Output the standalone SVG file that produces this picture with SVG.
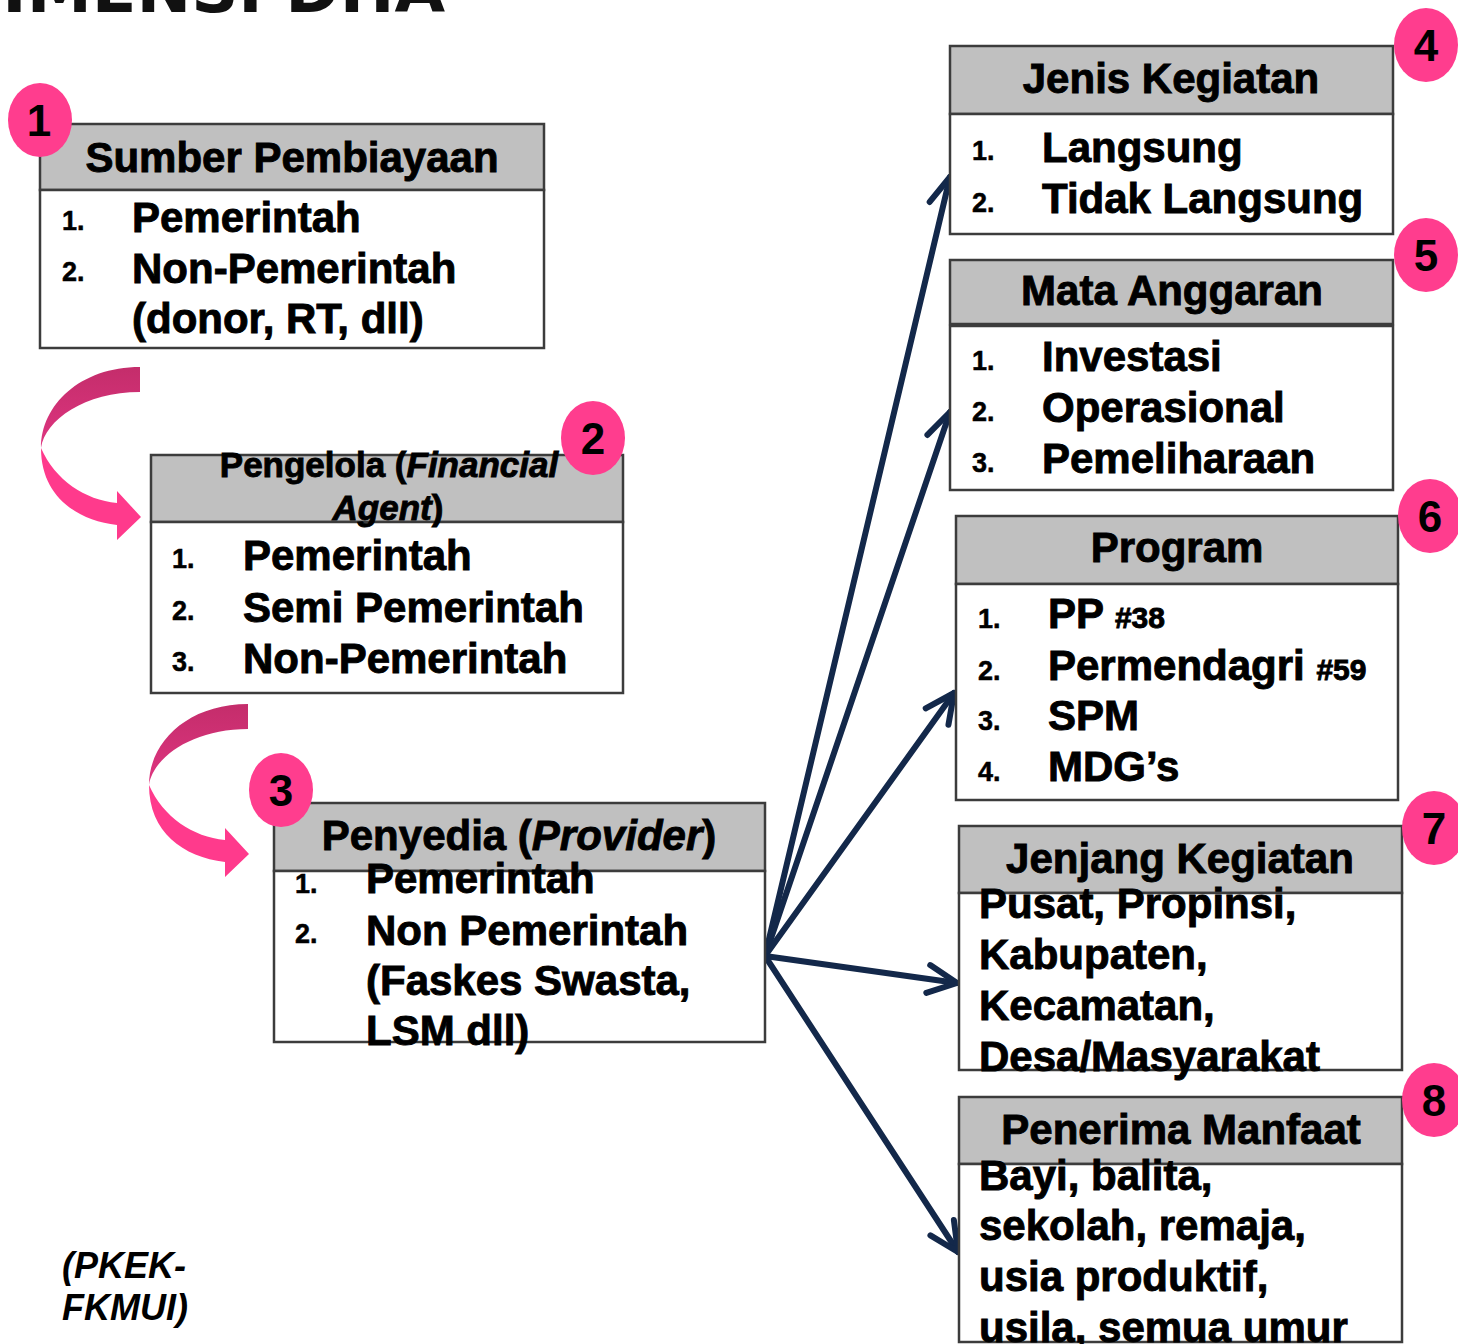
<svg xmlns="http://www.w3.org/2000/svg" width="1458" height="1344" viewBox="0 0 1458 1344">
<defs>
<style>
.hdr{fill:#c0c0c0;stroke:#3c3c3c;stroke-width:2.5}
.bdy{fill:#ffffff;stroke:#3c3c3c;stroke-width:2.5}
.t{font-family:"Liberation Sans",Arial,sans-serif;font-weight:bold;font-size:42px;fill:#000;stroke:#000;stroke-width:0.9}
.n{font-size:27px;stroke-width:0.5}
.s{font-size:30px}
.c{text-anchor:middle}
.i{font-style:italic}
.badge{fill:#ff3d8e}
.bn{font-family:"Liberation Sans",Arial,sans-serif;font-weight:bold;font-size:44px;fill:#000;text-anchor:middle}
.conn{stroke:#13284a;stroke-width:6;stroke-linecap:round;fill:none}
</style>
<marker id="ah" markerUnits="userSpaceOnUse" orient="auto" markerWidth="50" markerHeight="50" viewBox="-40 -25 50 50" refX="0" refY="0" overflow="visible">
<path d="M -29,-14 L 0,0 L -29,14" fill="none" stroke="#13284a" stroke-width="6" stroke-linecap="round" stroke-linejoin="round"/>
</marker>
<linearGradient id="back" x1="0" y1="0" x2="0" y2="1">
<stop offset="0" stop-color="#c42d6b"/>
<stop offset="1" stop-color="#de3580"/>
</linearGradient>
<symbol id="curl" overflow="visible">
<path d="M 140,367 C 80,367 41,405 41,448 C 45,420 85,392 140,392 Z" fill="url(#back)"/>
<path d="M 41,448 C 55,480 85,500 117,503 L 117,491 L 141,517 L 117,540 L 117,525 C 75,520 41,495 41,448 Z" fill="#ff3a8c"/>
</symbol>
</defs>
<rect width="1458" height="1344" fill="#ffffff"/>

<g id="title">
<text x="-52" y="12" textLength="497" lengthAdjust="spacingAndGlyphs" style="font-family:'DejaVu Sans',sans-serif;font-weight:bold;font-size:64px;fill:#111">DIMENSI DHA</text>
</g>

<g id="connectors">
<use href="#curl"/>
<use href="#curl" transform="translate(108,337)"/>
<line class="conn" x1="765" y1="956" x2="950" y2="177" marker-end="url(#ah)"/>
<line class="conn" x1="765" y1="956" x2="950" y2="412" marker-end="url(#ah)"/>
<line class="conn" x1="765" y1="956" x2="954" y2="693" marker-end="url(#ah)"/>
<line class="conn" x1="765" y1="956" x2="957" y2="983" marker-end="url(#ah)"/>
<line class="conn" x1="765" y1="956" x2="958" y2="1252" marker-end="url(#ah)"/>
</g>

<g id="node1">
<rect class="hdr" x="40" y="124" width="504" height="66"/>
<rect class="bdy" x="40" y="190" width="504" height="158"/>
<text class="t c" x="292" y="172">Sumber Pembiayaan</text>
<text class="t n" x="62" y="230">1.</text>
<text class="t" x="132" y="232">Pemerintah</text>
<text class="t n" x="62" y="281">2.</text>
<text class="t" x="132" y="283">Non-Pemerintah</text>
<text class="t" x="132" y="333">(donor, RT, dll)</text>
<ellipse class="badge" cx="40" cy="120" rx="32" ry="37"/>
<text class="bn" x="39" y="136">1</text>
</g>

<g id="node2">
<rect class="hdr" x="151" y="455" width="472" height="67"/>
<rect class="bdy" x="151" y="522" width="472" height="171"/>
<text class="t c" x="389" y="477" style="font-size:35px">Pengelola (<tspan class="i">Financial</tspan></text>
<text class="t c" x="388" y="520" style="font-size:35px"><tspan class="i">Agent</tspan>)</text>
<text class="t n" x="172" y="568">1.</text>
<text class="t" x="243" y="570">Pemerintah</text>
<text class="t n" x="172" y="620">2.</text>
<text class="t" x="243" y="622">Semi Pemerintah</text>
<text class="t n" x="172" y="671">3.</text>
<text class="t" x="243" y="673">Non-Pemerintah</text>
<ellipse class="badge" cx="593" cy="438" rx="32" ry="37"/>
<text class="bn" x="593" y="454">2</text>
</g>

<g id="node3">
<rect class="hdr" x="274" y="803" width="491" height="68"/>
<rect class="bdy" x="274" y="871" width="491" height="171"/>
<text class="t c" x="519" y="850">Penyedia (<tspan class="i">Provider</tspan>)</text>
<text class="t n" x="295" y="893">1.</text>
<text class="t" x="366" y="893">Pemerintah</text>
<text class="t n" x="295" y="943">2.</text>
<text class="t" x="366" y="945">Non Pemerintah</text>
<text class="t" x="366" y="995">(Faskes Swasta,</text>
<text class="t" x="366" y="1045">LSM dll)</text>
<ellipse class="badge" cx="281" cy="790" rx="32" ry="37"/>
<text class="bn" x="281" y="806">3</text>
</g>

<g id="node4">
<rect class="hdr" x="950" y="46" width="443" height="68"/>
<rect class="bdy" x="950" y="114" width="443" height="120"/>
<text class="t c" x="1171" y="93">Jenis Kegiatan</text>
<text class="t n" x="972" y="160">1.</text>
<text class="t" x="1042" y="162">Langsung</text>
<text class="t n" x="972" y="212">2.</text>
<text class="t" x="1042" y="213">Tidak Langsung</text>
<ellipse class="badge" cx="1426" cy="45" rx="32" ry="37"/>
<text class="bn" x="1426" y="61">4</text>
</g>

<g id="node5">
<rect class="hdr" x="950" y="260" width="443" height="64"/>
<rect class="bdy" x="950" y="326" width="443" height="164"/>
<text class="t c" x="1172" y="305">Mata Anggaran</text>
<text class="t n" x="972" y="370">1.</text>
<text class="t" x="1042" y="371">Investasi</text>
<text class="t n" x="972" y="421">2.</text>
<text class="t" x="1042" y="422">Operasional</text>
<text class="t n" x="972" y="472">3.</text>
<text class="t" x="1042" y="473">Pemeliharaan</text>
<ellipse class="badge" cx="1426" cy="255" rx="32" ry="37"/>
<text class="bn" x="1426" y="271">5</text>
</g>

<g id="node6">
<rect class="hdr" x="956" y="516" width="442" height="68"/>
<rect class="bdy" x="956" y="584" width="442" height="216"/>
<text class="t c" x="1177" y="562">Program</text>
<text class="t n" x="978" y="628">1.</text>
<text class="t" x="1048" y="628">PP <tspan class="s">#38</tspan></text>
<text class="t n" x="978" y="680">2.</text>
<text class="t" x="1048" y="680">Permendagri <tspan class="s">#59</tspan></text>
<text class="t n" x="978" y="730">3.</text>
<text class="t" x="1048" y="730">SPM</text>
<text class="t n" x="978" y="781">4.</text>
<text class="t" x="1048" y="781">MDG’s</text>
<ellipse class="badge" cx="1430" cy="516" rx="32" ry="37"/>
<text class="bn" x="1430" y="532">6</text>
</g>

<g id="node7">
<rect class="hdr" x="959" y="826" width="443" height="67"/>
<rect class="bdy" x="959" y="893" width="443" height="177"/>
<text class="t c" x="1180" y="873">Jenjang Kegiatan</text>
<text class="t" x="979" y="918">Pusat, Propinsi,</text>
<text class="t" x="979" y="969">Kabupaten,</text>
<text class="t" x="979" y="1020">Kecamatan,</text>
<text class="t" x="979" y="1071">Desa/Masyarakat</text>
<ellipse class="badge" cx="1434" cy="828" rx="32" ry="37"/>
<text class="bn" x="1434" y="844">7</text>
</g>

<g id="node8">
<rect class="hdr" x="959" y="1097" width="443" height="67"/>
<rect class="bdy" x="959" y="1164" width="443" height="178"/>
<text class="t c" x="1181" y="1144">Penerima Manfaat</text>
<text class="t" x="979" y="1190">Bayi, balita,</text>
<text class="t" x="979" y="1240">sekolah, remaja,</text>
<text class="t" x="979" y="1291">usia produktif,</text>
<text class="t" x="979" y="1342">usila, semua umur</text>
<ellipse class="badge" cx="1434" cy="1100" rx="32" ry="37"/>
<text class="bn" x="1434" y="1116">8</text>
</g>

<g id="footer">
<text x="62" y="1278" style="font-family:'Liberation Sans',Arial,sans-serif;font-weight:bold;font-style:italic;font-size:36px;fill:#000">(PKEK-</text>
<text x="62" y="1320" style="font-family:'Liberation Sans',Arial,sans-serif;font-weight:bold;font-style:italic;font-size:36px;fill:#000">FKMUI)</text>
</g>
</svg>
